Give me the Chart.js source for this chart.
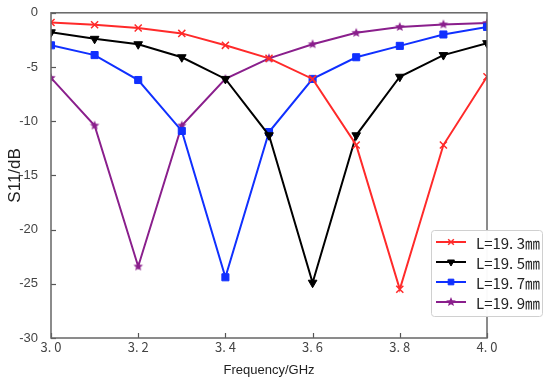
<!DOCTYPE html>
<html>
<head>
<meta charset="utf-8">
<script src="https://cdn.jsdelivr.net/npm/chart.js"></script>
<style>
  html, body { margin: 0; padding: 0; background: #fff; }
  #wrap { width: 550px; height: 384px; }
</style>
</head>
<body>
<div id="wrap"><canvas id="s11Chart" width="550" height="384"></canvas></div>
<script>
const freqs = [3.0, 3.1, 3.2, 3.3, 3.4, 3.5, 3.6, 3.7, 3.8, 3.9, 4.0];
const l193 = [-0.9, -1.1, -1.4, -1.9, -3.0, -4.2, -6.1, -12.2, -25.5, -12.2, -5.9];
const l195 = [-1.8, -2.4, -2.9, -4.1, -6.1, -11.3, -24.9, -11.3, -5.9, -3.9, -2.8];
const l197 = [-3.0, -3.9, -6.2, -10.9, -24.4, -11.0, -6.1, -4.1, -3.05, -2.0, -1.3];
const l199 = [-6.0, -10.4, -23.4, -10.4, -6.1, -4.2, -2.9, -1.85, -1.3, -1.07, -0.93];
const seriesNames = ['L=19. 3㎜', 'L=19. 5㎜', 'L=19. 7㎜', 'L=19. 9㎜'];
const xTickLabels = ['3. 0', '3. 2', '3. 4', '3. 6', '3. 8', '4. 0'];

const canvas = document.getElementById('s11Chart');

function makeStar(color, r) {
  const c = document.createElement('canvas');
  c.width = r * 2 + 2;
  c.height = r * 2 + 2;
  const g = c.getContext('2d');
  g.fillStyle = color;
  g.beginPath();
  for (let i = 0; i < 10; i++) {
    const rad = i % 2 === 0 ? r : r * 0.45;
    const a = -Math.PI / 2 + i * Math.PI / 5;
    const px = r + 1 + rad * Math.cos(a);
    const py = r + 1 + rad * Math.sin(a);
    if (i === 0) g.moveTo(px, py); else g.lineTo(px, py);
  }
  g.closePath();
  g.fill();
  return c;
}

function toPoints(values) {
  return values.map((v, i) => ({ x: freqs[i], y: v }));
}

const purpleStar = makeStar('#8a1f8c', 5);

const datasets = [
  { label: seriesNames[0], data: toPoints(l193), borderColor: '#ff2a2a', backgroundColor: '#ff2a2a',
    pointStyle: 'crossRot', pointRadius: 5, pointBorderWidth: 1.5 },
  { label: seriesNames[1], data: toPoints(l195), borderColor: '#000000', backgroundColor: '#000000',
    pointStyle: 'triangle', pointRotation: 180, pointRadius: 5, pointBorderWidth: 1 },
  { label: seriesNames[2], data: toPoints(l197), borderColor: '#1030ff', backgroundColor: '#1030ff',
    pointStyle: 'rect', pointRadius: 5, pointBorderWidth: 1 },
  { label: seriesNames[3], data: toPoints(l199), borderColor: '#8a1f8c', backgroundColor: '#8a1f8c',
    pointStyle: purpleStar, pointRadius: 5, pointBorderWidth: 1 }
].map(d => Object.assign({ borderWidth: 2, tension: 0, fill: false }, d));

// frame, inward tick marks and the boxed legend
const framePlugin = {
  id: 'frame',
  afterDatasetsDraw(chart) {
    const { ctx, chartArea: a, scales } = chart;
    ctx.save();
    ctx.strokeStyle = '#555';
    ctx.lineWidth = 1.2;
    scales.x.ticks.forEach(t => {
      const px = Math.round(scales.x.getPixelForValue(t.value)) + 0.5;
      ctx.beginPath();
      ctx.moveTo(px, a.bottom);
      ctx.lineTo(px, a.bottom - 5);
      ctx.stroke();
    });
    scales.y.ticks.forEach(t => {
      const py = Math.round(scales.y.getPixelForValue(t.value)) + 0.5;
      ctx.beginPath();
      ctx.moveTo(a.left, py);
      ctx.lineTo(a.left + 5, py);
      ctx.stroke();
    });
    ctx.strokeStyle = '#666';
    ctx.lineWidth = 1.5;
    ctx.strokeRect(a.left, a.top, a.right - a.left, a.bottom - a.top);

    // legend
    const lx = 431, ly = 230, lw = 111, lh = 86;
    ctx.fillStyle = 'rgba(255,255,255,0.97)';
    ctx.strokeStyle = '#d0d0d0';
    ctx.lineWidth = 1;
    ctx.beginPath();
    ctx.roundRect(lx + 0.5, ly + 0.5, lw, lh, 3);
    ctx.fill();
    ctx.stroke();
    ctx.font = '15px "Noto Sans CJK SC", "DejaVu Sans", sans-serif';
    ctx.textBaseline = 'middle';
    chart.data.datasets.forEach((ds, i) => {
      const y = ly + 12 + i * 20;
      ctx.strokeStyle = ds.borderColor;
      ctx.lineWidth = 2;
      ctx.beginPath();
      ctx.moveTo(lx + 5, y);
      ctx.lineTo(lx + 35, y);
      ctx.stroke();
      ctx.fillStyle = ds.backgroundColor;
      ctx.strokeStyle = ds.borderColor;
      ctx.lineWidth = ds.pointBorderWidth;
      Chart.helpers.drawPoint(ctx, {
        pointStyle: ds.pointStyle, rotation: ds.pointRotation || 0,
        radius: 4, borderWidth: ds.pointBorderWidth
      }, lx + 20, y);
      ctx.fillStyle = '#222';
      ctx.fillText(ds.label, lx + 45, y + 1);
    });
    ctx.restore();
  }
};

new Chart(canvas, {
  type: 'line',
  data: { datasets },
  plugins: [framePlugin],
  options: {
    responsive: false,
    animation: false,
    layout: { padding: { top: 12, right: 63, left: 0, bottom: 0 } },
    plugins: { legend: { display: false }, tooltip: { enabled: false } },
    scales: {
      x: {
        type: 'linear', min: 3.0, max: 4.0,
        afterFit(s) { s.height = 46; },
        grid: { display: false },
        border: { display: false },
        ticks: {
          stepSize: 0.2, padding: -7, color: '#444', maxRotation: 0,
          font: { size: 13, family: '"Noto Sans CJK SC", "DejaVu Sans", sans-serif' },
          callback: (v, i) => xTickLabels[i]
        },
        title: {
          display: true, text: 'Frequency/GHz', color: '#222',
          font: { size: 13, family: '"Liberation Sans", Arial, sans-serif' },
          padding: { top: 2, bottom: 6 }
        }
      },
      y: {
        min: -30, max: 0,
        afterFit(s) { s.width = 51; },
        grid: { display: false },
        border: { display: false },
        ticks: {
          stepSize: 5, padding: 5, color: '#444',
          font: { size: 13, family: '"Liberation Sans", Arial, sans-serif' }
        },
        title: {
          display: true, text: 'S11/dB', color: '#222',
          font: { size: 17, family: '"Liberation Sans", Arial, sans-serif' },
          padding: { top: 5, bottom: 0 }
        }
      }
    }
  }
});
</script>
</body>
</html>
